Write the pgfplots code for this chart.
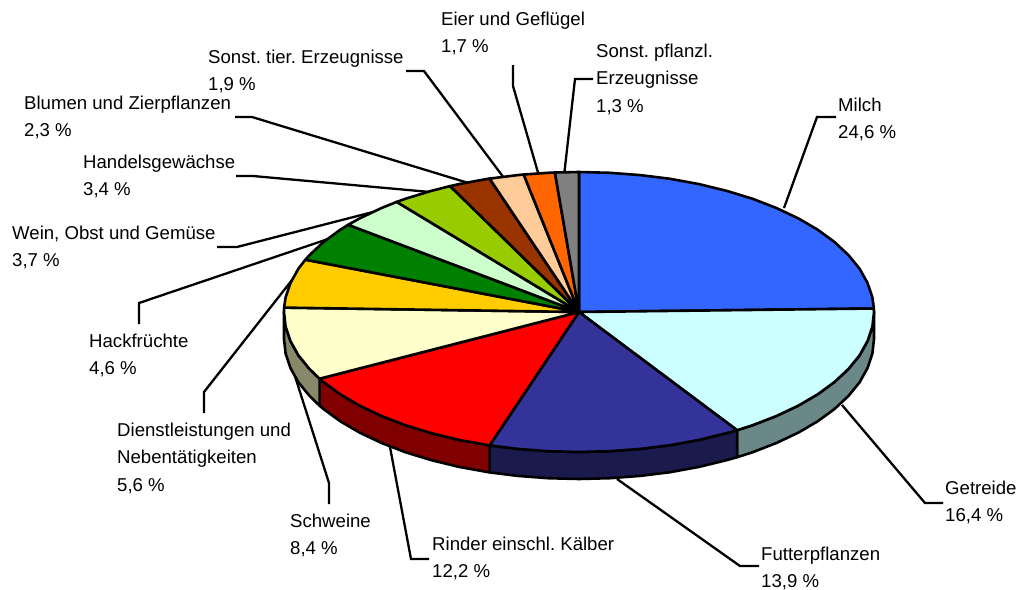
\documentclass[border=0pt]{standalone}
\usepackage{pgfplots}
\pgfplotsset{compat=1.18}
\usepackage{fontspec}
\setmainfont{Liberation Sans}
\frenchspacing
\definecolor{cMilch}{HTML}{3366FF}
\definecolor{cGetreide}{HTML}{CCFFFF}
\definecolor{cFutter}{HTML}{333399}
\definecolor{cRinder}{HTML}{FF0000}
\definecolor{cSchweine}{HTML}{FFFFCC}
\definecolor{cDienst}{HTML}{FFCC00}
\definecolor{cHack}{HTML}{008000}
\definecolor{cWein}{HTML}{CCFFCC}
\definecolor{cHandel}{HTML}{99CC00}
\definecolor{cBlumen}{HTML}{993300}
\definecolor{cTier}{HTML}{FFCC99}
\definecolor{cEier}{HTML}{FF6600}
\definecolor{cPflanz}{HTML}{808080}
\definecolor{sGetreide}{HTML}{6A8888}
\definecolor{sFutter}{HTML}{1A1A4D}
\definecolor{sRinder}{HTML}{800000}
\definecolor{sSchweine}{HTML}{88886B}
\newcommand\lab[3]{\node[anchor=north west,inner sep=0pt,align=left,font=\fontsize{18.67}{27.5}\selectfont] at (axis cs:#1,#2) {\strut #3};}
\pgfplotsset{
 slice/.style={fill=#1,draw=black,line width=2.6bp,line join=round,mark=none},
 leader/.style={draw=black,line width=2.3bp,line join=miter,mark=none},
}
\begin{document}
\begin{tikzpicture}
\useasboundingbox (0,0) rectangle (1021bp,590bp);
\begin{axis}[
  at={(0,0)},anchor=south west,
  scale only axis,width=1021bp,height=590bp,
  xmin=0,xmax=1021,ymin=0,ymax=590,y dir=reverse,
  axis lines=none,clip=false]
% leader lines
\addplot[leader] coordinates {(784,208)(817,117)(836,117)};
\addplot[leader] coordinates {(842,405)(925,503)(943,503)};
\addplot[leader] coordinates {(617,479)(740,566)(759,566)};
\addplot[leader] coordinates {(390,447)(411,559)(429,559)};
\addplot[leader] coordinates {(293,370)(329,483)(329,504)};
\addplot[leader] coordinates {(292,280)(204,392)(204,413)};
\addplot[leader] coordinates {(331,238)(139,303)(139,324)};
\addplot[leader] coordinates {(373,212)(237,247)(217,247)};
\addplot[leader] coordinates {(430,192)(253,176)(236,176)};
\addplot[leader] coordinates {(475,185)(252,117)(235,117)};
\addplot[leader] coordinates {(504,178)(424,71)(406,71)};
\addplot[leader] coordinates {(539,176)(513,86)(513,65)};
\addplot[leader] coordinates {(564,176)(575,79)(593,79)};
% side faces
\addplot[slice=sGetreide] coordinates {(874,312)(872.4,326.6)(867.5,341.1)(859.6,355.3)(848.5,368.9)(834.5,382)(817.7,394.3)(798.2,405.7)(776.4,416)(752.4,425.3)(737.1,430.2)(737.1,457.2)(752.4,452.3)(776.4,443)(798.2,432.7)(817.7,421.3)(834.5,409)(848.5,395.9)(859.6,382.3)(867.5,368.1)(872.4,353.6)(874,339)} -- cycle;
\addplot[slice=sFutter] coordinates {(737.1,430.2)(726.5,433.2)(699,439.9)(670.2,445.2)(640.3,448.9)(609.8,451.2)(579,452)(548.2,451.2)(517.7,448.9)(489.6,445.4)(489.6,472.4)(517.7,475.9)(548.2,478.2)(579,479)(609.8,478.2)(640.3,475.9)(670.2,472.2)(699,466.9)(726.5,460.2)(737.1,457.2)} -- cycle;
\addplot[slice=sRinder] coordinates {(489.6,445.4)(459,439.9)(431.5,433.2)(405.6,425.3)(381.6,416)(359.8,405.7)(340.3,394.3)(323.5,382)(319.6,378.7)(319.6,405.7)(323.5,409)(340.3,421.3)(359.8,432.7)(381.6,443)(405.6,452.3)(431.5,460.2)(459,466.9)(489.6,472.4)} -- cycle;
\addplot[slice=sSchweine] coordinates {(319.6,378.7)(309.5,368.9)(298.4,355.3)(290.5,341.1)(285.6,326.6)(284,312)(284,339)(285.6,353.6)(290.5,368.1)(298.4,382.3)(309.5,395.9)(319.6,405.7)} -- cycle;
% top faces
\addplot[slice=cMilch] coordinates {(579,312)(579,172)(609.8,172.8)(640.3,175.1)(670.2,178.8)(699,184.1)(726.5,190.8)(752.4,198.7)(776.4,208)(798.2,218.3)(817.7,229.7)(834.5,242)(848.5,255.1)(859.6,268.7)(867.5,282.9)(872.4,297.4)(873.9,308.5)} -- cycle;
\addplot[slice=cGetreide] coordinates {(579,312)(873.9,308.5)(874,312)(872.4,326.6)(867.5,341.1)(859.6,355.3)(848.5,368.9)(834.5,382)(817.7,394.3)(798.2,405.7)(776.4,416)(752.4,425.3)(737.1,430.2)} -- cycle;
\addplot[slice=cFutter] coordinates {(579,312)(737.1,430.2)(726.5,433.2)(699,439.9)(670.2,445.2)(640.3,448.9)(609.8,451.2)(579,452)(548.2,451.2)(517.7,448.9)(489.6,445.4)} -- cycle;
\addplot[slice=cRinder] coordinates {(579,312)(489.6,445.4)(459,439.9)(431.5,433.2)(405.6,425.3)(381.6,416)(359.8,405.7)(340.3,394.3)(323.5,382)(319.6,378.7)} -- cycle;
\addplot[slice=cSchweine] coordinates {(579,312)(319.6,378.7)(309.5,368.9)(298.4,355.3)(290.5,341.1)(285.6,326.6)(284,312)(284.1,307.6)} -- cycle;
\addplot[slice=cDienst] coordinates {(579,312)(284.1,307.6)(285.6,297.4)(290.5,282.9)(298.4,268.7)(305.4,259.7)} -- cycle;
\addplot[slice=cHack] coordinates {(579,312)(305.4,259.7)(309.5,255.1)(323.5,242)(340.3,229.7)(348.2,224.8)} -- cycle;
\addplot[slice=cWein] coordinates {(579,312)(348.2,224.8)(359.8,218.3)(381.6,208)(396.7,201.9)} -- cycle;
\addplot[slice=cHandel] coordinates {(579,312)(396.7,201.9)(405.6,198.7)(431.5,190.8)(450.1,186.1)} -- cycle;
\addplot[slice=cBlumen] coordinates {(579,312)(450.1,186.1)(459,184.1)(487.8,178.8)(489.6,178.6)} -- cycle;
\addplot[slice=cTier] coordinates {(579,312)(489.6,178.6)(517.7,175.1)(523.7,174.5)} -- cycle;
\addplot[slice=cEier] coordinates {(579,312)(523.7,174.5)(548.2,172.8)(554.9,172.5)} -- cycle;
\addplot[slice=cPflanz] coordinates {(579,312)(554.9,172.5)(579,172)} -- cycle;
% labels
\lab{441}{6}{Eier und Geflügel\\1,7 \%}
\lab{596}{38}{Sonst. pflanzl.\\Erzeugnisse\\1,3 \%}
\lab{838}{92}{Milch\\24,6 \%}
\lab{208}{44}{Sonst. tier. Erzeugnisse\\1,9 \%}
\lab{24}{90}{Blumen und Zierpflanzen\\2,3 \%}
\lab{83}{149}{Handelsgewächse\\3,4 \%}
\lab{12}{220}{Wein, Obst und Gemüse\\3,7 \%}
\lab{89}{328}{Hackfrüchte\\4,6 \%}
\lab{117}{417}{Dienstleistungen und\\Nebentätigkeiten\\5,6 \%}
\lab{290}{508}{Schweine\\8,4 \%}
\lab{432}{531}{Rinder einschl. Kälber\\12,2 \%}
\lab{761}{541}{Futterpflanzen\\13,9 \%}
\lab{945}{475}{Getreide\\16,4 \%}
\end{axis}
\end{tikzpicture}
\end{document}
